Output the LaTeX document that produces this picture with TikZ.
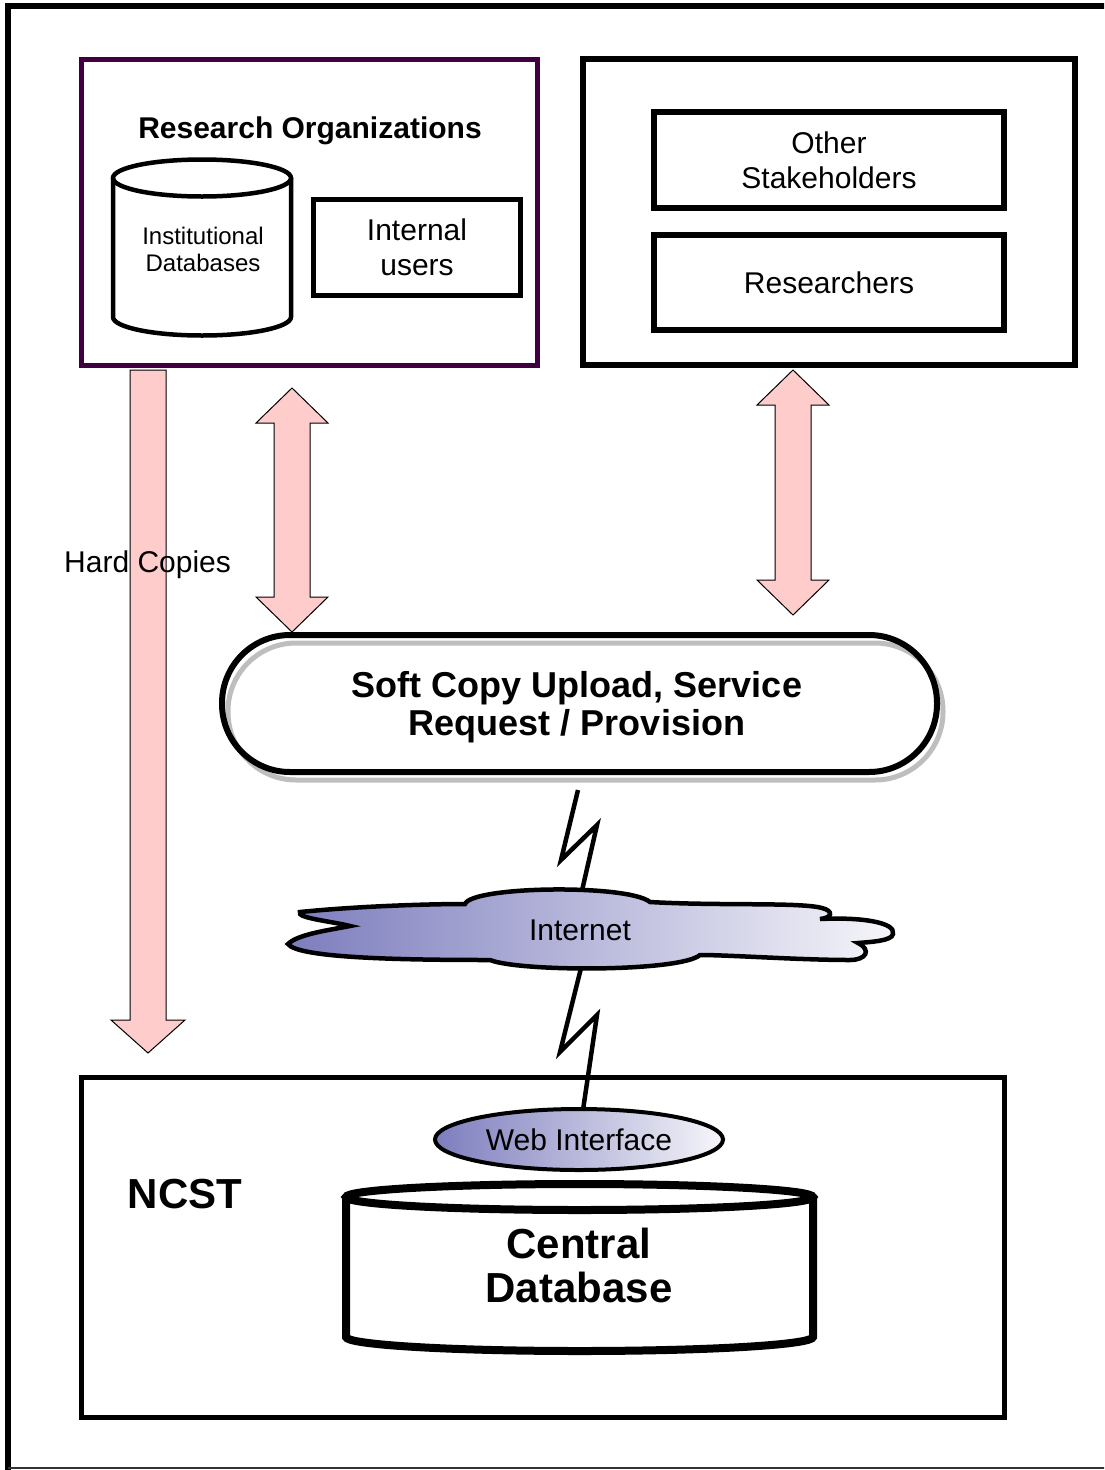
\documentclass[tikz,border=0pt]{standalone}
\usepackage{fontspec}
\setmainfont{Liberation Sans}
\usetikzlibrary{shapes.geometric}
\definecolor{rodark}{RGB}{64,0,64}
\definecolor{pinkfill}{RGB}{255,204,204}
\definecolor{cloudL}{RGB}{125,125,190}
\definecolor{cloudR}{RGB}{246,246,250}
\definecolor{shadowgray}{RGB}{190,190,190}
\newcommand\blockdarrow[3]{%
  \draw[blockarrow] (#1,#2) -- (#1+36,#2+35) -- (#1+18,#2+35) -- (#1+18,#3-35) -- (#1+36,#3-35) -- (#1,#3) -- (#1-36,#3-35) -- (#1-18,#3-35) -- (#1-18,#2+35) -- (#1-36,#2+35) -- cycle;}
\begin{document}
\begin{tikzpicture}[x=1pt,y=-1pt,
  rectbox/.style={draw, rectangle, inner sep=0pt},
  fa/.style={font=\fontsize{30}{35}\selectfont},
  fb/.style={font=\fontsize{24}{27}\selectfont},
  bfa/.style={font=\bfseries\fontsize{30}{35}\selectfont},
  bfb/.style={font=\bfseries\fontsize{36}{38}\selectfont},
  bfc/.style={font=\bfseries\fontsize{42}{44}\selectfont},
  blockarrow/.style={draw=black, line width=1pt, fill=pinkfill, line join=miter},
  bolt/.style={draw=black, line width=4.5pt, line join=miter},
  shaded/.style={left color=cloudL, right color=cloudR}
]
\useasboundingbox (0,0) rectangle (1104,1470);
\clip (0,0) rectangle (1104,1470);
\fill[white] (0,0) rectangle (1104,1470);

% outer frame
\draw[line width=6pt] (1115,6) -- (8,6) -- (8,1475);
\draw[line width=2pt, black!80] (8,1468) -- (1115,1468);

% block arrows
\coordinate (hctop) at (148,370);
\coordinate (hctip) at (148,1053);
\draw[blockarrow] (130,370) -- (130,1020) -- (111,1020) -- (hctip) -- (185,1020) -- (166,1020) -- (166,370) -- cycle;
\blockdarrow{292}{388}{632}
\blockdarrow{793}{370}{615}
\node[fa, anchor=west, inner sep=0pt] (hardlabel) at (64,565) {Hard Copies};

% Research organizations
\node[rectbox, draw=rodark, line width=5pt, minimum width=456pt, minimum height=306pt] (ro) at (309.5,212.5) {};
\node[bfa] (rotitle) at (310,131) {Research Organizations};
\draw[line width=4.5pt, fill=white] (113,178) -- (113,317) arc[start angle=180,end angle=0,x radius=89,y radius=18.5] -- (291,178);
\draw[line width=4.5pt] (202,178) ellipse[x radius=89, y radius=18.5];
\node[fb, align=center] (instdb) at (203,249) {Institutional\\Databases};
\node[rectbox, line width=5pt, minimum width=207pt, minimum height=96pt, fa, align=center] (intusers) at (417,247.5) {Internal\\users};

% stakeholders
\node[rectbox, line width=6pt, minimum width=492pt, minimum height=306pt] (sh) at (829,212) {};
\node[rectbox, line width=6pt, minimum width=350pt, minimum height=96pt, fa, align=center] (other) at (829,160) {Other\\Stakeholders};
\node[rectbox, line width=6pt, minimum width=350pt, minimum height=95pt, fa, align=center] (researchers) at (829,282.5) {Researchers};

% soft copy stadium
\node[draw=shadowgray, line width=5pt, rectangle, rounded corners=68pt, minimum width=715pt, minimum height=137pt, inner sep=0pt] (softshadow) at (585.5,711.5) {};
\node[draw, line width=6pt, rectangle, rounded corners=68pt, minimum width=715pt, minimum height=137pt, inner sep=0pt, bfb, align=center, text depth=0pt] (soft) at (579.5,703.5) {};
\node[bfb, align=center] (softtext) at (577,707) {Soft Copy Upload, Service\\Request / Provision};

% lightning bolts
\draw[bolt] (578,790) -- (561,860) -- (597,825) -- (581,895);
\draw[bolt] (581,968) -- (560,1052) -- (597,1015) -- (583,1110);

% cloud
\draw[line width=4.5pt, shaded]
  (300,912) .. controls (360,906) and (430,904) .. (465,904)
  .. controls (472,886) and (628,884) .. (650,902)
  .. controls (720,906) and (800,902) .. (822,908)
  .. controls (834,911) and (832,918) .. (820,919)
  .. controls (860,917) and (896,922) .. (893,934)
  .. controls (892,941) and (870,942) .. (858,943)
  .. controls (872,950) and (866,960) .. (850,960)
  .. controls (800,960) and (730,955) .. (700,955)
  .. controls (680,972) and (520,972) .. (490,960)
  .. controls (400,960) and (298,958) .. (288,944)
  .. controls (298,934) and (330,930) .. (350,926)
  .. controls (330,921) and (296,918) .. (300,912) -- cycle;
\node[fa] (internet) at (580,930) {Internet};

% NCST
\node[rectbox, line width=5pt, minimum width=923pt, minimum height=340pt] (ncst) at (543,1247.5) {};
\node[bfc] (ncstlabel) at (185,1194) {NCST};
\node[ellipse, draw, line width=4pt, shaded, minimum width=288pt, minimum height=61pt, inner sep=0pt, fa] (web) at (579,1139.5) {Web Interface};
\draw[line width=8pt, fill=white] (346,1197) -- (346,1337) arc[start angle=180,end angle=0,x radius=233.5,y radius=14] -- (813,1197);
\draw[line width=8pt] (579.5,1197) ellipse[x radius=233.5, y radius=13];
\node[bfc, align=center] (central) at (579,1265) {Central\\Database};
\end{tikzpicture}
\end{document}
